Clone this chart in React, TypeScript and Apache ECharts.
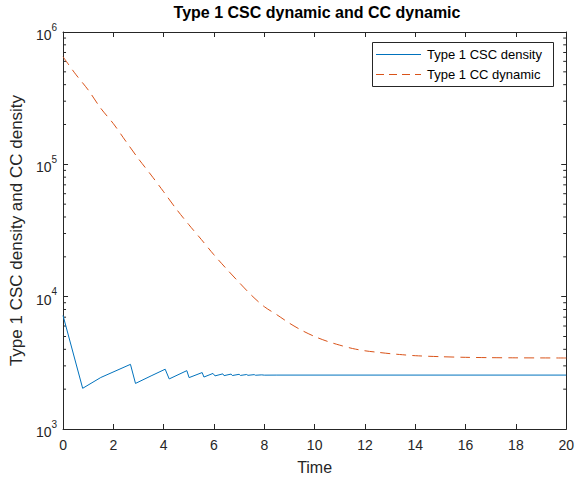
import React, { useEffect, useRef } from "react";
import * as echarts from "echarts";

const cscTime = [0, 0.78, 1.5, 2.68, 2.88, 3.5, 4.06, 4.22, 4.92, 5.01, 5.53, 5.6, 5.96, 6.04, 6.35, 6.4, 6.68, 6.73, 7.0, 7.05, 7.3, 7.35, 7.6, 7.65, 7.9, 8.0, 8.5, 20];
const cscValue = [7200, 2030, 2450, 3080, 2210, 2520, 2830, 2390, 2760, 2445, 2670, 2470, 2630, 2520, 2610, 2530, 2600, 2535, 2590, 2540, 2580, 2545, 2575, 2548, 2565, 2552, 2555, 2555];

const ccTime = [0, 0.5, 1, 1.5, 2, 2.5, 3, 3.5, 4, 4.5, 5, 5.5, 6, 6.5, 7, 7.5, 8, 8.5, 9, 9.5, 10, 10.5, 11, 11.5, 12, 12.5, 13, 13.5, 14, 15, 16, 17, 18, 20];
const ccValue = [650000, 480000, 365000, 265000, 203000, 149000, 110000, 83000, 62000, 46000, 35000, 27000, 20700, 16200, 12800, 10200, 8400, 7300, 6300, 5550, 5000, 4600, 4300, 4060, 3900, 3800, 3710, 3640, 3580, 3520, 3480, 3460, 3450, 3440];

const minorTickValues = [2, 3, 4, 5, 6, 7, 8, 9].flatMap((m) => [m * 1e3, m * 1e4, m * 1e5]);

const seriesNames = ["Type 1 CSC density", "Type 1 CC dynamic"];

const FONT = "'Liberation Sans', Arial, Helvetica, sans-serif";
const AX = "#262626";
const BLUE = "#0072BD";
const RED = "#D95319";

export default function App() {
  const ref = useRef<HTMLDivElement>(null);
  useEffect(() => {
    if (!ref.current) return;
    const chart = echarts.init(ref.current, null, { renderer: "svg" });
    const zip = (a: number[], b: number[]) => a.map((t, i) => [t, b[i]]);
    const xCommon = {
      type: "value" as const,
      min: 0,
      max: 20,
      interval: 2,
      splitLine: { show: false },
      axisLine: { show: true, onZero: false, lineStyle: { color: AX, width: 1 } },
      axisTick: { show: true, inside: true, length: 5, lineStyle: { color: AX } },
    };
    const yCommon = {
      type: "log" as const,
      min: 1e3,
      max: 1e6,
      logBase: 10,
      splitLine: { show: false },
      axisLine: { show: true, onZero: false, lineStyle: { color: AX, width: 1 } },
      axisTick: { show: true, inside: true, length: 5, lineStyle: { color: AX } },
    };
    const legendX = 372;
    const legendY = 42;
    const rowY = [legendY + 12.5, legendY + 32.5];
    const colors = [BLUE, RED];
    const dashes: any[] = [null, [8, 5]];
    chart.setOption({
      animation: false,
      backgroundColor: "#fff",
      title: {
        text: "Type 1 CSC dynamic and CC dynamic",
        left: 317,
        top: 4,
        padding: 0,
        textAlign: "center",
        textStyle: { fontFamily: FONT, fontSize: 16, fontWeight: "bold", color: "#000" },
      },
      grid: { left: 63, right: 7, top: 32, bottom: 55, containLabel: false },
      graphic: [
        {
          type: "rect",
          z: 100,
          shape: { x: legendX + 0.5, y: legendY + 0.5, width: 181, height: 44 },
          style: { fill: "#fff", stroke: AX, lineWidth: 1 },
        },
        ...seriesNames.flatMap((name, i) => [
          {
            type: "line",
            z: 101,
            shape: { x1: legendX + 4, y1: rowY[i], x2: legendX + 49, y2: rowY[i] },
            style: { stroke: colors[i], lineWidth: 1, lineDash: dashes[i] },
          },
          {
            type: "text",
            z: 101,
            x: legendX + 55,
            y: rowY[i],
            style: {
              text: name,
              fontFamily: FONT,
              fontSize: 13,
              fill: "#000",
              verticalAlign: "middle",
              textAlign: "left",
            },
          },
        ]),
      ],
      xAxis: [
        {
          ...xCommon,
          position: "bottom",
          name: "Time",
          nameLocation: "middle",
          nameGap: 30,
          nameTextStyle: { fontFamily: FONT, fontSize: 16, color: AX },
          axisLabel: { fontFamily: FONT, fontSize: 14, color: AX, margin: 9 },
        },
        { ...xCommon, position: "top", axisLabel: { show: false } },
      ],
      yAxis: [
        {
          ...yCommon,
          position: "left",
          name: "Type 1 CSC density and CC density",
          nameLocation: "middle",
          nameGap: 36,
          nameTextStyle: { fontFamily: FONT, fontSize: 17, color: AX },
          axisLabel: {
            margin: 6,
            formatter: (v: number) => `{b|10}{s|${Math.round(Math.log10(v))}}`,
            rich: {
              b: { fontFamily: FONT, fontSize: 14, color: AX, lineHeight: 20, verticalAlign: "bottom" },
              s: { fontFamily: FONT, fontSize: 10, color: AX, lineHeight: 20, verticalAlign: "top" },
            },
          },
        },
        { ...yCommon, position: "right", axisLabel: { show: false } },
      ],
      series: [
        {
          name: seriesNames[0],
          type: "line",
          data: zip(cscTime, cscValue),
          showSymbol: false,
          symbol: "none",
          lineStyle: { color: BLUE, width: 1 },
          itemStyle: { color: BLUE },
        },
        {
          name: seriesNames[1],
          type: "line",
          smooth: 0.3,
          data: zip(ccTime, ccValue),
          showSymbol: false,
          symbol: "none",
          lineStyle: { color: RED, width: 1, type: [10, 6] },
          itemStyle: { color: RED },
        },
        {
          type: "custom",
          silent: true,
          data: minorTickValues.map((v) => [0, v]),
          renderItem: (params: any, api: any) => {
            const v = api.value(1);
            const l = api.coord([0, v]);
            const r = api.coord([20, v]);
            return {
              type: "group",
              children: [
                { type: "line", shape: { x1: l[0], y1: l[1], x2: l[0] + 3, y2: l[1] }, style: { stroke: AX, lineWidth: 1 } },
                { type: "line", shape: { x1: r[0], y1: r[1], x2: r[0] - 3, y2: r[1] }, style: { stroke: AX, lineWidth: 1 } },
              ],
            };
          },
        },
      ],
    });
    return () => chart.dispose();
  }, []);
  return <div ref={ref} style={{ width: 577, height: 484, position: "absolute", left: 0, top: 0 }} />;
}
